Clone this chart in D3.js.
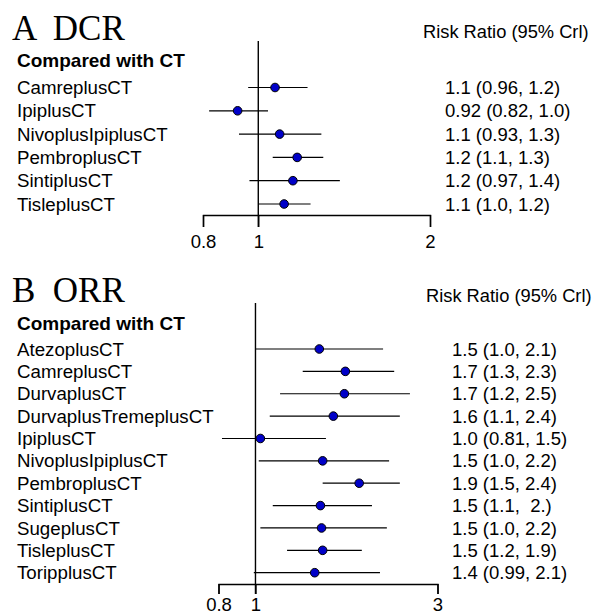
<!DOCTYPE html>
<html>
<head>
<meta charset="utf-8">
<script src="https://cdn.jsdelivr.net/npm/d3@7"></script>
<style>
  body { margin: 0; background: #fff; }
  svg text { font-family: "Liberation Sans", Arial, sans-serif; fill: #000; }
  .title { font-family: "Liberation Serif", "Times New Roman", serif; }
</style>
</head>
<body>
<div id="chart"></div>
<script>
const width = 593;
const height = 615;

// panel A - DCR
const dcrLabels = ["CamreplusCT", "IpiplusCT", "NivoplusIpiplusCT", "PembroplusCT", "SintiplusCT", "TisleplusCT"];
const dcrEst = [1.07, 0.92, 1.09, 1.17, 1.15, 1.11];
const dcrLo  = [0.96, 0.82, 0.925, 1.06, 0.965, 1.0];
const dcrHi  = [1.22, 1.04, 1.29, 1.30, 1.39, 1.235];
const dcrText = ["1.1 (0.96, 1.2)", "0.92 (0.82, 1.0)", "1.1 (0.93, 1.3)", "1.2 (1.1, 1.3)", "1.2 (0.97, 1.4)", "1.1 (1.0, 1.2)"];
const dcrTicks = [0.8, 1, 2];

// panel B - ORR
const orrLabels = ["AtezoplusCT", "CamreplusCT", "DurvaplusCT", "DurvaplusTremeplusCT", "IpiplusCT", "NivoplusIpiplusCT",
  "PembroplusCT", "SintiplusCT", "SugeplusCT", "TisleplusCT", "ToripplusCT"];
const orrEst = [1.47, 1.72, 1.71, 1.60, 1.03, 1.50, 1.87, 1.48, 1.49, 1.50, 1.43];
const orrLo  = [1.0, 1.33, 1.16, 1.09, 0.817, 1.02, 1.50, 1.11, 1.03, 1.21, 0.99];
const orrHi  = [2.16, 2.31, 2.54, 2.39, 1.53, 2.24, 2.39, 2.02, 2.21, 1.90, 2.12];
const orrText = ["1.5 (1.0, 2.1)", "1.7 (1.3, 2.3)", "1.7 (1.2, 2.5)", "1.6 (1.1, 2.4)", "1.0 (0.81, 1.5)", "1.5 (1.0, 2.2)",
  "1.9 (1.5, 2.4)", "1.5 (1.1,  2.)", "1.5 (1.0, 2.2)", "1.5 (1.2, 1.9)", "1.4 (0.99, 2.1)"];
const orrTicks = [0.8, 1, 3];

const svg = d3.select("#chart").append("svg")
    .attr("width", width)
    .attr("height", height);

function drawPanel(p) {
    const g = svg.append("g");
    const n = p.labels.length;

    let xScale = d3.scaleLog()
        .domain([p.ticks[0], p.ticks[p.ticks.length - 1]])
        .range(p.xRange);
    let yScale = d3.scaleLinear()
        .domain([0, n - 1])
        .range(p.yRange);

    g.append("text")
        .attr("class", "title")
        .attr("x", 12)
        .attr("y", p.titleY)
        .style("font-size", "35px")
        .style("white-space", "pre")
        .text(p.title);

    g.append("text")
        .attr("x", p.headX)
        .attr("y", p.headY)
        .style("font-size", "18.3px")
        .text("Risk Ratio (95% Crl)");

    g.append("text")
        .attr("x", 17)
        .attr("y", p.compY)
        .style("font-size", "19px")
        .style("font-weight", "bold")
        .text("Compared with CT");

    // axis
    let axis = g.append("g")
        .attr("transform", `translate(0,${p.axisY})`)
        .call(d3.axisBottom(xScale)
            .tickValues(p.ticks)
            .tickFormat(d3.format("~g"))
            .tickSize(p.tickLen)
            .tickSizeOuter(p.tickLen)
            .tickPadding(p.tickPad));
    axis.select(".domain").attr("stroke", "#000").attr("stroke-width", 1.4);
    axis.selectAll(".tick line").attr("stroke", "#000").attr("stroke-width", 1.4);
    axis.selectAll(".tick text")
        .style("font-family", "Liberation Sans, Arial, sans-serif")
        .style("font-size", "18.5px")
        .attr("fill", "#000");

    // reference line at 1
    g.append("line")
        .attr("x1", xScale(1)).attr("x2", xScale(1))
        .attr("y1", p.lineTop).attr("y2", p.axisY + p.tickLen)
        .attr("stroke", "#000")
        .attr("stroke-width", 1.4);

    const rows = d3.range(n);

    g.selectAll(".lab")
        .data(rows)
        .enter()
        .append("text")
        .attr("x", 17)
        .attr("y", i => yScale(i) + 6.6)
        .style("font-size", "18.7px")
        .text(i => p.labels[i]);

    g.selectAll(".ci")
        .data(rows)
        .enter()
        .append("line")
        .attr("x1", i => xScale(p.lo[i]))
        .attr("x2", i => xScale(p.hi[i]))
        .attr("y1", i => yScale(i))
        .attr("y2", i => yScale(i))
        .attr("stroke", "#000")
        .attr("stroke-width", 1.2);

    g.selectAll(".pt")
        .data(rows)
        .enter()
        .append("circle")
        .attr("cx", i => xScale(p.est[i]))
        .attr("cy", i => yScale(i))
        .attr("r", 4.3)
        .attr("fill", "#0000c8")
        .attr("stroke", "#000")
        .attr("stroke-width", 1);

    g.selectAll(".val")
        .data(rows)
        .enter()
        .append("text")
        .attr("x", p.valX)
        .attr("y", i => yScale(i) + 6.6)
        .style("font-size", "18.5px")
        .style("white-space", "pre")
        .text(i => p.text[i]);
}

drawPanel({
    title: "A  DCR", titleY: 40,
    headX: 423, headY: 37.5, compY: 66.5,
    labels: dcrLabels, est: dcrEst, lo: dcrLo, hi: dcrHi, text: dcrText, ticks: dcrTicks,
    xRange: [203, 430], yRange: [87.5, 204],
    axisY: 215, tickLen: 12, tickPad: 8, lineTop: 41, valX: 445
});

drawPanel({
    title: "B  ORR", titleY: 302,
    headX: 426, headY: 301.5, compY: 329.5,
    labels: orrLabels, est: orrEst, lo: orrLo, hi: orrHi, text: orrText, ticks: orrTicks,
    xRange: [218.5, 437.5], yRange: [349, 572.7],
    axisY: 584, tickLen: 10, tickPad: 4, lineTop: 303, valX: 452
});
</script>
</body>
</html>
